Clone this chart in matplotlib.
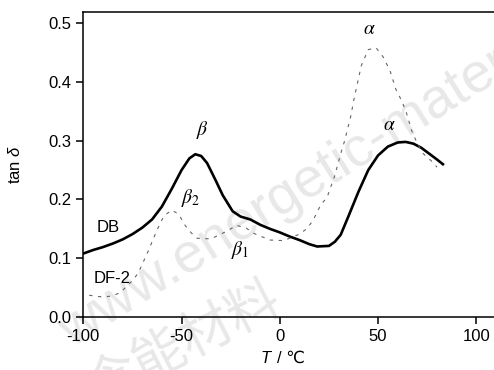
import matplotlib
matplotlib.use('Agg')
import matplotlib.pyplot as plt

plt.rcParams['font.family'] = ['Liberation Sans', 'DejaVu Sans']
plt.rcParams['mathtext.fontset'] = 'custom'
plt.rcParams['mathtext.it'] = 'Liberation Sans:italic'
plt.rcParams['mathtext.rm'] = 'Liberation Sans'
plt.rcParams['axes.unicode_minus'] = False

# DB curve (solid)
db_t = [-100, -95, -90, -85, -80, -75, -70, -65, -60, -55, -50, -46, -43, -40, -37, -33, -29,
        -24, -20, -15, -10, -5, 0, 5, 10, 15, 19, 25, 28, 31, 35, 40, 45, 50, 55, 60, 64, 68,
        72, 76, 80, 83]
db_tan = [0.108, 0.114, 0.119, 0.125, 0.132, 0.141, 0.152, 0.166, 0.188, 0.218, 0.250, 0.270,
          0.277, 0.274, 0.262, 0.235, 0.207, 0.180, 0.171, 0.166, 0.157, 0.150, 0.144, 0.137,
          0.131, 0.124, 0.120, 0.121, 0.128, 0.140, 0.172, 0.213, 0.250, 0.275, 0.290, 0.297,
          0.298, 0.295, 0.288, 0.278, 0.268, 0.260]

# DF-2 curve (dashed)
df_t = [-97, -90, -85, -81, -75, -72, -67, -62.5, -59, -55, -51.5, -48, -45, -42, -35, -27,
        -22, -17, -13, -5, 2, 10, 14, 17, 21, 24, 28, 31, 33, 36, 38, 41.5, 45, 49, 52.5, 56,
        59, 62, 64, 66, 67, 70, 73, 77, 80]
df_tan = [0.037, 0.034, 0.036, 0.042, 0.062, 0.075, 0.112, 0.148, 0.172, 0.182, 0.175, 0.155,
          0.143, 0.134, 0.133, 0.146, 0.156, 0.151, 0.142, 0.131, 0.130, 0.141, 0.151, 0.165,
          0.192, 0.203, 0.241, 0.278, 0.300, 0.340, 0.375, 0.428, 0.455, 0.458, 0.443, 0.420,
          0.388, 0.368, 0.352, 0.330, 0.318, 0.295, 0.278, 0.266, 0.255]

fig = plt.figure(figsize=(4.94, 3.70), dpi=100)
ax = fig.add_axes([0.1686, 0.1432, 0.8314, 0.8243])

# watermark, kept behind the axes
fig.text(0.146, 0.059, 'www.energetic-materials.org.cn', fontsize=40, color='#e8e8e8',
         rotation=32, rotation_mode='anchor', ha='left', va='baseline', zorder=-1)
fig.text(0.37, 0.07, '含能材料', fontsize=38, color='#e8e8e8', family='Noto Sans CJK SC',
         rotation=27, rotation_mode='anchor', ha='center', va='center', zorder=-1)
ax.patch.set_alpha(0)

ax.plot(db_t, db_tan, color='black', linewidth=1.9)
ax.plot(df_t, df_tan, color='0.4', linewidth=0.8, dashes=(3, 5))

ax.set_xlim(-100, 109)
ax.set_ylim(0, 0.519)
ax.set_xticks([-100, -50, 0, 50, 100])
ax.set_yticks([0.0, 0.1, 0.2, 0.3, 0.4, 0.5])
ax.set_yticklabels(['0.0', '0.1', '0.2', '0.3', '0.4', '0.5'])
ax.spines['right'].set_visible(False)
for s in ['left', 'bottom', 'top']:
    ax.spines[s].set_linewidth(1.1)
ax.tick_params(direction='out', length=5, width=1.1, labelsize=12)

# x label: italic T plus "/ ℃"
ax.text(0.445, -0.151, 'T', fontsize=12, style='italic', ha='center', va='baseline',
        transform=ax.transAxes)
ax.text(0.472, -0.151, '/ ℃', fontsize=12, ha='left', va='baseline',
        transform=ax.transAxes)
ax.set_ylabel(r'tan $\delta$', fontsize=12, labelpad=18)

ax.text(-87.5, 0.152, 'DB', fontsize=12, ha='center', va='center')
ax.text(-85.5, 0.066, 'DF-2', fontsize=12, ha='center', va='center')
ax.text(-39.2, 0.319, r'$\beta$', fontsize=14, ha='center', va='center', math_fontfamily='stix')
ax.text(-45.5, 0.203, r'$\beta_2$', fontsize=14, ha='center', va='center', math_fontfamily='stix')
ax.text(-20.0, 0.114, r'$\beta_1$', fontsize=14, ha='center', va='center', math_fontfamily='stix')
ax.text(45.8, 0.489, r'$\alpha$', fontsize=14, ha='center', va='center', math_fontfamily='stix')
ax.text(56.0, 0.326, r'$\alpha$', fontsize=14, ha='center', va='center', math_fontfamily='stix')

fig.savefig('out.png', dpi=100)
